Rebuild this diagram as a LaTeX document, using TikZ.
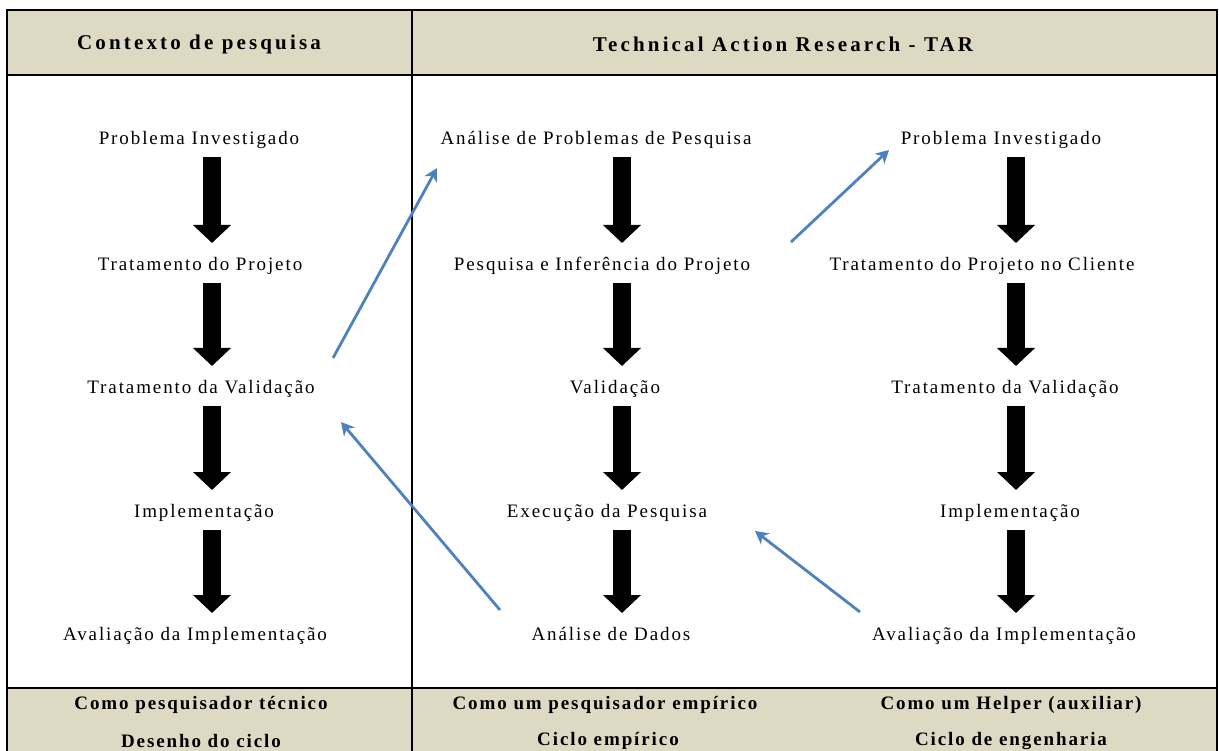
\documentclass[tikz,border=0pt]{standalone}
\usepackage{fontspec}
\setmainfont{Liberation Serif}
\newfontfamily\spaced{Liberation Serif}[LetterSpace=10]
\newfontfamily\spacedhead{Liberation Serif}[LetterSpace=15]
\usetikzlibrary{arrows.meta, positioning, calc}
\definecolor{headfill}{HTML}{DDD9C3}
\definecolor{linkblue}{HTML}{4F81BD}

\begin{document}
\begin{tikzpicture}[
    x=1pt, y=-1pt,
    every node/.style={font=\spaced\fontsize{19}{22}\selectfont},
    item/.style={inner sep=0pt, text height=13pt, text depth=4pt, yshift=-3pt},
    head/.style={font=\spacedhead\fontsize{21}{24}\selectfont\bfseries},
    foot/.style={font=\spaced\fontsize{19}{22}\selectfont\bfseries},
    rule/.style={line width=2.6pt, black},
    blk/.style={line width=18pt, -{Triangle[length=18pt, width=37pt]},
                shorten <=17pt, shorten >=23pt},
    link/.style={draw=linkblue, line width=2.8pt,
                 -{Stealth[length=13pt, width=14pt, inset=4pt]}}
  ]
  \useasboundingbox (0,0) rectangle (1219,751);

  % table frame
  \fill[headfill] (7,10) rectangle (1217,75);
  \fill[headfill] (7,688) rectangle (1217,760);
  \draw[rule] (7,760) -- (7,10) -- (1217,10) -- (1217,760);
  \draw[rule] (7,75) -- (1217,75);
  \draw[rule] (7,688) -- (1217,688);
  \draw[rule] (412,10) -- (412,760);

  \node[head] (hctx) at (199,44) {Contexto de pesquisa};
  \node[head] (htar) at (783,44) {Technical Action Research - TAR};

  % design cycle
  \node[item] (c1p) at (199,137) {Problema Investigado};
  \node[item] (c1t) at (200,263) {Tratamento do Projeto};
  \node[item] (c1v) at (201,386) {Tratamento da Validação};
  \node[item] (c1i) at (204,510) {Implementação};
  \node[item] (c1a) at (195,633) {Avaliação da Implementação};

  % empirical cycle
  \node[item] (c2a) at (596,137) {Análise de Problemas de Pesquisa};
  \node[item] (c2p) at (602,263) {Pesquisa e Inferência do Projeto};
  \node[item] (c2v) at (615,386) {Validação};
  \node[item] (c2e) at (607,510) {Execução da Pesquisa};
  \node[item] (c2d) at (611,633) {Análise de Dados};

  % engineering cycle
  \node[item] (c3p) at (1001,137) {Problema Investigado};
  \node[item] (c3t) at (982,263) {Tratamento do Projeto no Cliente};
  \node[item] (c3v) at (1005,386) {Tratamento da Validação};
  \node[item] (c3i) at (1010,510) {Implementação};
  \node[item] (c3a) at (1004,633) {Avaliação da Implementação};

  \coordinate (ax1) at (212,0);
  \coordinate (ax2) at (622,0);
  \coordinate (ax3) at (1016,0);

  \foreach \a/\b in {c1p/c1t, c1t/c1v, c1v/c1i, c1i/c1a}
    \draw[blk] (\a -| ax1) -- (\b -| ax1);
  \foreach \a/\b in {c2a/c2p, c2p/c2v, c2v/c2e, c2e/c2d}
    \draw[blk] (\a -| ax2) -- (\b -| ax2);
  \foreach \a/\b in {c3p/c3t, c3t/c3v, c3v/c3i, c3i/c3a}
    \draw[blk] (\a -| ax3) -- (\b -| ax3);

  % links between the cycles
  \coordinate (l1s) at (333,358);
  \coordinate (l1e) at (437,168);
  \coordinate (l2s) at (500,610);
  \coordinate (l2e) at (341,422);
  \coordinate (l3s) at (791,242);
  \coordinate (l3e) at (889,150);
  \coordinate (l4s) at (860,612);
  \coordinate (l4e) at (755,531);
  \draw[link] (l1s) -- (l1e);
  \draw[link] (l2s) -- (l2e);
  \draw[link] (l3s) -- (l3e);
  \draw[link] (l4s) -- (l4e);

  % roles
  \node[foot] (f1a) at (201,705) {Como pesquisador técnico};
  \node[foot] (f1b) at (201,741) {Desenho do ciclo};
  \node[foot] (f2a) at (605,705) {Como um pesquisador empírico};
  \node[foot] (f2b) at (608,741) {Ciclo empírico};
  \node[foot] (f3a) at (1011,705) {Como um Helper (auxiliar)};
  \node[foot] (f3b) at (1011,741) {Ciclo de engenharia};
\end{tikzpicture}
\end{document}
